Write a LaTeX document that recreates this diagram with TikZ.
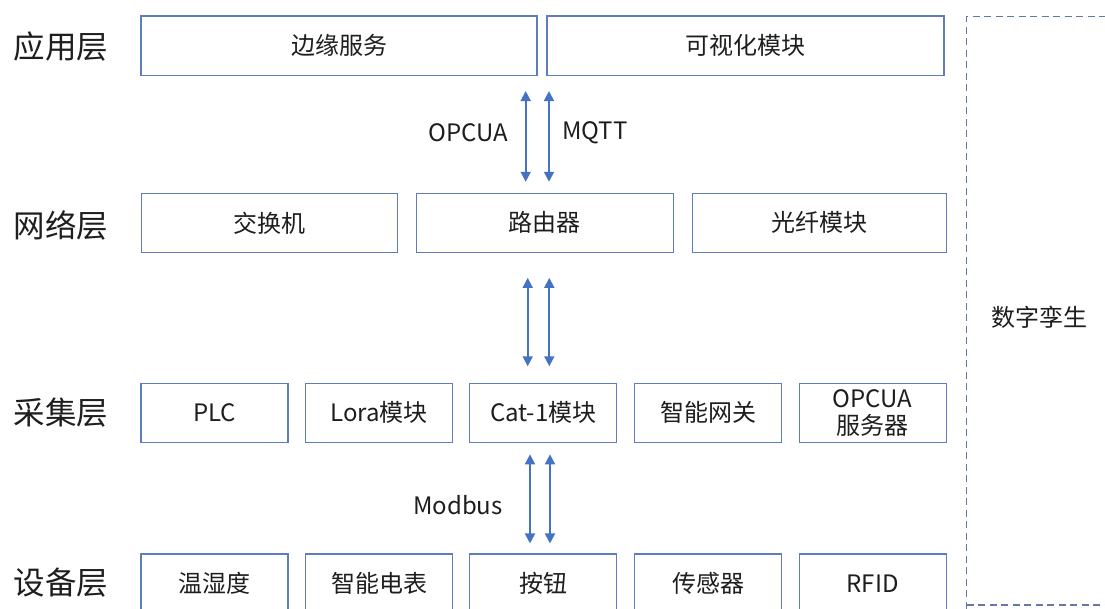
\documentclass[tikz,border=0pt]{standalone}
\usepackage{fontspec}
\setmainfont{Noto Sans CJK SC}
\usetikzlibrary{arrows.meta}
\definecolor{boxc}{RGB}{95,125,190}
\definecolor{arrc}{RGB}{68,114,196}
\definecolor{txtc}{RGB}{30,30,30}
\definecolor{dashc}{RGB}{100,120,165}
\tikzset{
  box/.style={draw=boxc, line width=1.1pt, inner sep=0pt, align=center, text=txtc, font=\fontsize{24}{27}\selectfont},
  layer/.style={text=txtc, font=\fontsize{31.5}{34}\selectfont, inner sep=0pt},
  lbl/.style={text=txtc, font=\fontsize{24}{27}\selectfont, inner sep=0pt},
  arr/.style={draw=arrc, line width=1.8pt, {Triangle[width=10pt,length=10pt]}-{Triangle[width=10pt,length=10pt]}},
  twin/.style={draw=dashc, line width=1.1pt, dash pattern=on 7pt off 4.5pt}
}
\begin{document}
\begin{tikzpicture}[x=1pt,y=-1pt]
\useasboundingbox (0,0) rectangle (1105,608);
\fill[white] (0,0) rectangle (1105,608);
\clip (0,0) rectangle (1105,608);
% layer labels
\node[layer] (l1) at (61,47) {应用层};
\node[layer] (l2) at (61,225) {网络层};
\node[layer] (l3) at (61,413) {采集层};
\node[layer] (l4) at (61,583) {设备层};
% application row
\node[box, minimum width=396pt, minimum height=59.5pt] (edge) at (339,45.75) {边缘服务};
\node[box, minimum width=397pt, minimum height=59.5pt] (vis) at (745.5,45.75) {可视化模块};
% network row
\node[box, minimum width=256pt, minimum height=59pt] (sw) at (269.2,222.8) {交换机};
\node[box, minimum width=257pt, minimum height=59pt] (rt) at (544.7,222.8) {路由器};
\node[box, minimum width=254pt, minimum height=59pt] (fib) at (819.2,222.8) {光纤模块};
% collection row
\node[box, minimum width=147pt, minimum height=59pt] (plc) at (214.5,412.8) {PLC};
\node[box, minimum width=147pt, minimum height=59pt] (lora) at (379.2,412.8) {Lora模块};
\node[box, minimum width=147pt, minimum height=59pt] (cat) at (543.3,412.8) {Cat-1模块};
\node[box, minimum width=147pt, minimum height=59pt] (gw) at (708.2,412.8) {智能网关};
\node[box, minimum width=147pt, minimum height=59pt] (opc) at (872.6,412.8) {OPCUA\\[0pt]服务器};
% device row
\node[box, minimum width=147pt, minimum height=59pt] (th) at (214.5,583.5) {温湿度};
\node[box, minimum width=147pt, minimum height=59pt] (em) at (379.2,583.5) {智能电表};
\node[box, minimum width=147pt, minimum height=59pt] (btn) at (543.3,583.5) {按钮};
\node[box, minimum width=147pt, minimum height=59pt] (sen) at (708.2,583.5) {传感器};
\node[box, minimum width=147pt, minimum height=59pt] (rfid) at (872.6,583.5) {RFID};
% digital twin
\draw[twin] (966.5,620) -- (966.5,16.5) -- (1120,16.5);
\draw[twin] (966.5,605) -- (1120,605);
\node[lbl] (dt) at (1039,317) {数字孪生};
% arrow x positions
\coordinate (xa1) at (525.7,0);
\coordinate (xa2) at (549,0);
\coordinate (xb1) at (527.7,0);
\coordinate (xb2) at (549.3,0);
\coordinate (xc1) at (530,0);
\coordinate (xc2) at (550,0);
% arrows
\draw[arr, shorten <=15pt, shorten >=11pt] (edge.south -| xa1) -- (rt.north -| xa1);
\draw[arr, shorten <=15pt, shorten >=11pt] (vis.south -| xa2) -- (rt.north -| xa2);
\draw[arr, shorten <=25pt, shorten >=16.5pt] (rt.south -| xb1) -- (cat.north -| xb1);
\draw[arr, shorten <=25pt, shorten >=16.5pt] (rt.south -| xb2) -- (cat.north -| xb2);
\draw[arr, shorten <=11.5pt, shorten >=10pt] (cat.south -| xc1) -- (btn.north -| xc1);
\draw[arr, shorten <=11.5pt, shorten >=10pt] (cat.south -| xc2) -- (btn.north -| xc2);
% protocol labels
\node[lbl] (p1) at (468,133) {OPCUA};
\node[lbl] (p2) at (595,133) {MQTT};
\node[lbl] (p3) at (458,505) {Modbus};
\end{tikzpicture}
\end{document}
